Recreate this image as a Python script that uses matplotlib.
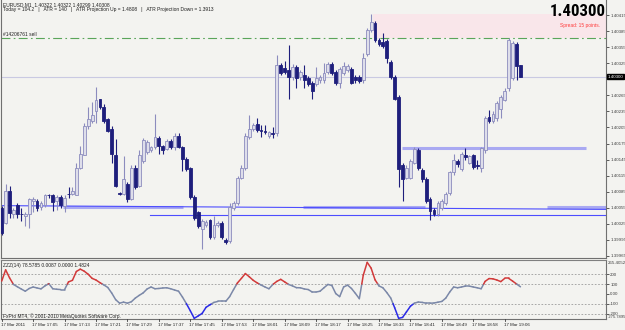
import matplotlib
matplotlib.use('Agg')
import matplotlib.pyplot as plt
from matplotlib.patches import Rectangle
from matplotlib.collections import LineCollection
from matplotlib import font_manager as fm
import numpy as np

# ---------------- data ----------------
opens = [1.40055, 1.40027, 1.40087, 1.40044, 1.40061, 1.40044, 1.40040, 1.40044, 1.40068, 1.40068,
         1.40057, 1.40061, 1.40079, 1.40079, 1.40068, 1.40076, 1.40059, 1.40081, 1.40081, 1.40079,
         1.40130, 1.40154, 1.40207, 1.40218, 1.40235, 1.40258, 1.40244, 1.40220, 1.40203, 1.40154,
         1.40083, 1.40081, 1.40100, 1.40072, 1.40130, 1.40096, 1.40143, 1.40160, 1.40162, 1.40168,
         1.40186, 1.40171, 1.40164, 1.40179, 1.40168, 1.40190, 1.40169, 1.40147, 1.40130, 1.40076,
         1.40048, 1.40016, 1.40023, 1.40033, 1.40001, 1.40023, 1.40027, 1.39995, 1.39993, 1.40055,
         1.40064, 1.40111, 1.40130, 1.40188, 1.40203, 1.40211, 1.40201, 1.40199, 1.40190, 1.40194,
         1.40194, 1.40321, 1.40316, 1.40312, 1.40299, 1.40318, 1.40299, 1.40303, 1.40297, 1.40288,
         1.40286, 1.40293, 1.40293, 1.40308, 1.40323, 1.40308, 1.40289, 1.40306, 1.40312, 1.40314,
         1.40299, 1.40299, 1.40293, 1.40342, 1.40387, 1.40400, 1.40368, 1.40364, 1.40366, 1.40327,
         1.40299, 1.40261, 1.40134, 1.40111, 1.40111, 1.40139, 1.40162, 1.40126, 1.40109, 1.40072,
         1.40051, 1.40044, 1.40055, 1.40064, 1.40083, 1.40121, 1.40143, 1.40128, 1.40153, 1.40139,
         1.40153, 1.40134, 1.40130, 1.40162, 1.40224, 1.40218, 1.40222, 1.40239, 1.40257, 1.40278,
         1.40297, 1.40361, 1.40322]
highs = [1.40059, 1.40100, 1.40096, 1.40055, 1.40064, 1.40055, 1.40048, 1.40074, 1.40076, 1.40072,
         1.40068, 1.40081, 1.40081, 1.40081, 1.40079, 1.40079, 1.40078, 1.40093, 1.40094, 1.40138,
         1.40171, 1.40214, 1.40243, 1.40252, 1.40280, 1.40259, 1.40248, 1.40222, 1.40207, 1.40184,
         1.40085, 1.40151, 1.40104, 1.40134, 1.40134, 1.40162, 1.40186, 1.40181, 1.40171, 1.40231,
         1.40190, 1.40173, 1.40183, 1.40183, 1.40194, 1.40194, 1.40171, 1.40149, 1.40132, 1.40078,
         1.40049, 1.40034, 1.40033, 1.40034, 1.40040, 1.40031, 1.40031, 1.39999, 1.40064, 1.40068,
         1.40115, 1.40134, 1.40194, 1.40228, 1.40214, 1.40222, 1.40209, 1.40209, 1.40199, 1.40205,
         1.40340, 1.40325, 1.40329, 1.40359, 1.40323, 1.40321, 1.40312, 1.40321, 1.40301, 1.40291,
         1.40318, 1.40303, 1.40325, 1.40327, 1.40327, 1.40312, 1.40318, 1.40327, 1.40323, 1.40318,
         1.40303, 1.40303, 1.40344, 1.40391, 1.40417, 1.40404, 1.40372, 1.40381, 1.40370, 1.40331,
         1.40303, 1.40265, 1.40138, 1.40134, 1.40147, 1.40168, 1.40166, 1.40130, 1.40113, 1.40076,
         1.40055, 1.40068, 1.40072, 1.40085, 1.40124, 1.40156, 1.40147, 1.40160, 1.40166, 1.40154,
         1.40156, 1.40145, 1.40169, 1.40226, 1.40237, 1.40235, 1.40254, 1.40265, 1.40278, 1.40372,
         1.40366, 1.40364, 1.40322]
lows = [1.40004, 1.40025, 1.40036, 1.40036, 1.40036, 1.40031, 1.40021, 1.40018, 1.40048, 1.40049,
        1.40051, 1.40057, 1.40074, 1.40049, 1.40051, 1.40055, 1.40048, 1.40074, 1.40078, 1.40078,
        1.40128, 1.40153, 1.40203, 1.40214, 1.40214, 1.40239, 1.40214, 1.40196, 1.40138, 1.40094,
        1.40079, 1.40079, 1.40066, 1.40070, 1.40091, 1.40093, 1.40139, 1.40156, 1.40160, 1.40164,
        1.40156, 1.40156, 1.40162, 1.40164, 1.40162, 1.40166, 1.40124, 1.40124, 1.40072, 1.40033,
        1.40018, 1.39978, 1.40019, 1.39997, 1.39997, 1.40019, 1.39997, 1.39987, 1.39989, 1.40051,
        1.40061, 1.40108, 1.40126, 1.40184, 1.40199, 1.40196, 1.40188, 1.40192, 1.40186, 1.40186,
        1.40190, 1.40303, 1.40304, 1.40259, 1.40293, 1.40278, 1.40293, 1.40278, 1.40282, 1.40259,
        1.40282, 1.40289, 1.40289, 1.40304, 1.40303, 1.40284, 1.40278, 1.40303, 1.40308, 1.40286,
        1.40289, 1.40288, 1.40289, 1.40338, 1.40383, 1.40364, 1.40357, 1.40353, 1.40325, 1.40295,
        1.40256, 1.40093, 1.40068, 1.40108, 1.40108, 1.40136, 1.40126, 1.40104, 1.40064, 1.40033,
        1.40040, 1.40040, 1.40051, 1.40061, 1.40079, 1.40117, 1.40132, 1.40124, 1.40145, 1.40136,
        1.40128, 1.40128, 1.40121, 1.40158, 1.40214, 1.40214, 1.40218, 1.40222, 1.40254, 1.40274,
        1.40293, 1.40293, 1.40299]
closes = [1.40008, 1.40087, 1.40046, 1.40051, 1.40044, 1.40043, 1.40044, 1.40072, 1.40072, 1.40055,
          1.40063, 1.40078, 1.40078, 1.40066, 1.40076, 1.40061, 1.40074, 1.40080, 1.40087, 1.40130,
          1.40156, 1.40207, 1.40220, 1.40229, 1.40256, 1.40243, 1.40218, 1.40199, 1.40156, 1.40096,
          1.40081, 1.40108, 1.40072, 1.40130, 1.40094, 1.40153, 1.40181, 1.40177, 1.40168, 1.40188,
          1.40171, 1.40162, 1.40179, 1.40168, 1.40190, 1.40169, 1.40147, 1.40128, 1.40076, 1.40036,
          1.40021, 1.40031, 1.40029, 1.40001, 1.40023, 1.40027, 1.40001, 1.39991, 1.40057, 1.40063,
          1.40111, 1.40130, 1.40190, 1.40203, 1.40209, 1.40201, 1.40199, 1.40197, 1.40196, 1.40193,
          1.40321, 1.40306, 1.40308, 1.40299, 1.40318, 1.40297, 1.40308, 1.40293, 1.40286, 1.40274,
          1.40297, 1.40299, 1.40306, 1.40323, 1.40306, 1.40288, 1.40314, 1.40319, 1.40319, 1.40289,
          1.40293, 1.40291, 1.40334, 1.40387, 1.40402, 1.40368, 1.40361, 1.40357, 1.40334, 1.40299,
          1.40259, 1.40128, 1.40109, 1.40130, 1.40143, 1.40164, 1.40130, 1.40108, 1.40068, 1.40049,
          1.40044, 1.40064, 1.40068, 1.40081, 1.40121, 1.40145, 1.40136, 1.40156, 1.40149, 1.40151,
          1.40132, 1.40133, 1.40166, 1.40222, 1.40218, 1.40231, 1.40250, 1.40261, 1.40274, 1.40368,
          1.40362, 1.40319, 1.40300]

cci = [130, 245, 163, 96, 72, 49, 27, 55, 70, 60,
       51, 81, 104, 52, 47, 44, 44, 122, 138, 228,
       252, 231, 200, 158, 141, 114, 91, 65, 8, -59,
       -95, -84, -95, -80, -43, -15, 10, 50, 70, 52,
       55, 60, 62, 52, 39, 27, -33, -100, -173, -249,
       -225, -199, -137, -111, -87, -77, -77, -77, -28, 44,
       112, 158, 207, 174, 138, 112, 90, 70, 52, 96,
       127, 148, 122, 96, 81, 63, 62, 50, 44, 19,
       19, 27, 62, 96, 86, 3, -28, 70, 89, 55,
       5, -49, 190, 321, 262, 143, 81, 62, 13, -43,
       -142, -249, -240, -183, -126, -95, -83, -87, -95, -95,
       -93, -85, -77, -43, 19, 70, 62, 70, 79, 79,
       70, 62, 52, 127, 156, 153, 141, 125, 158, 158,
       130, 101, 72]

time_labels = ["17 Mar 2011", "17 Mar 17:05", "17 Mar 17:13", "17 Mar 17:21", "17 Mar 17:29",
               "17 Mar 17:37", "17 Mar 17:45", "17 Mar 17:53", "17 Mar 18:01", "17 Mar 18:09",
               "17 Mar 18:17", "17 Mar 18:25", "17 Mar 18:33", "17 Mar 18:41", "17 Mar 18:49",
               "17 Mar 18:58", "17 Mar 19:06"]
time_label_bars = [0, 8, 16, 24, 32, 40, 48, 56, 64, 72, 80, 88, 96, 104, 112, 120, 128]

price_ticks = [1.40415, 1.40385, 1.40355, 1.40325, 1.40265, 1.40235, 1.40205, 1.40175,
               1.40145, 1.40115, 1.40085, 1.40055, 1.40025, 1.39995, 1.39965]
cci_levels = [200, 100, 0, -100, -200]
cci_level_labels = ["200", "100", "0.00", "-100", "-200"]

current_price = 1.40300
sell_level = 1.40372


def pick(cands):
    for c in cands:
        try:
            fm.findfont(fm.FontProperties(family=c), fallback_to_default=False)
            return c
        except Exception:
            pass
    return 'DejaVu Sans'


SMALL = pick(['Liberation Sans', 'Arial', 'DejaVu Sans'])
BIG = pick(['Liberation Sans Narrow', 'DejaVu Sans Condensed', 'Roboto Condensed', 'Liberation Sans'])
plt.rcParams['font.family'] = [SMALL, 'DejaVu Sans']

# ---------------- figure ----------------
W, H = 625, 330
BG = '#f3f3f0'
fig = plt.figure(figsize=(W / 100, H / 100), dpi=100, facecolor=BG)


def fx(x):
    return x / W


def fy(y):
    return 1 - y / H


STEP = 3.93  # px per bar
X0 = 1.7     # px of first bar
ax_left, ax_right = 1, 606
main_top, main_bot = 0, 258
ind_top, ind_bot = 260, 319

xlim = ((ax_left - X0) / STEP, (ax_right - X0) / STEP)

ax = fig.add_axes([fx(ax_left), fy(main_bot), fx(ax_right - ax_left), (main_bot - main_top) / H])
ax.set_facecolor(BG)
ax.set_xlim(*xlim)
ax.set_ylim(1.399612, 1.404431)

axi = fig.add_axes([fx(ax_left), fy(ind_bot), fx(ax_right - ax_left), (ind_bot - ind_top) / H])
axi.set_facecolor(BG)
axi.set_xlim(*xlim)
axi.set_ylim(-256, 345)

for a in (ax, axi):
    a.spines['top'].set_visible(False)
    for s in ('left', 'right', 'bottom'):
        a.spines[s].set_color('#707070')
        a.spines[s].set_linewidth(0.8)
    a.set_xticks([])
axi.spines['top'].set_visible(True)
axi.spines['top'].set_color('#808080')

# pink zone above sell line (right of peak)
ax.add_patch(Rectangle((94.5, sell_level), xlim[1] - 94.5, 1.40417 - sell_level,
                       facecolor='#f9e6ea', edgecolor='none', zorder=0.5))

# horizontal objects
ax.axhline(current_price, color='#c9c9e2', lw=0.8, zorder=1)
ax.axhline(sell_level, color='#5aa55a', lw=0.8, ls=(0, (8, 3, 1.5, 3)), zorder=1)
for xa, xb in [((63 - X0) / STEP, (183 - X0) / STEP), ((303 - X0) / STEP, (425 - X0) / STEP),
               ((547 - X0) / STEP, xlim[1])]:
    ax.plot([xa, xb], [1.40056, 1.40056], color='#a9a9f2', lw=2.2, solid_capstyle='butt', zorder=1)
ax.plot([(402 - X0) / STEP, (586 - X0) / STEP], [1.40167, 1.40167], color='#a9a9f2', lw=2.2,
        solid_capstyle='butt', zorder=1)
ax.plot([xlim[0], xlim[1]], [1.40059, 1.40052], color='#4d4dff', lw=0.8, zorder=1.2)
ax.plot([(150 - X0) / STEP, xlim[1]], [1.40042, 1.40042], color='#4d4dff', lw=0.8, zorder=1.2)

# candles
BEAR = '#1e1e7c'
BULL_EDGE = '#8c8cbe'
BULL_FILL = '#dedeea'
bw = 0.72
for i, (o, h, l, c) in enumerate(zip(opens, highs, lows, closes)):
    bull = c >= o
    col = BULL_EDGE if bull else BEAR
    ax.plot([i, i], [l, h], color=col, lw=0.8, zorder=2, solid_capstyle='butt')
    lo_b, hi_b = min(o, c), max(o, c)
    hgt = max(hi_b - lo_b, 0.000012)
    ax.add_patch(Rectangle((i - bw / 2, lo_b), bw, hgt,
                           facecolor=BULL_FILL if bull else BEAR,
                           edgecolor=col, lw=0.6, zorder=3))

# price axis
ax.yaxis.tick_right()
ax.set_yticks(price_ticks)
ax.set_yticklabels([f"{p:.5f}" for p in price_ticks])
ax.tick_params(axis='y', length=2, width=0.6, colors='#404040', labelsize=3.2, pad=1)
ax.text(1.002, current_price, "1.40300", transform=ax.get_yaxis_transform(), fontsize=3.2,
        color='white', va='center', ha='left',
        bbox=dict(boxstyle='square,pad=0.15', facecolor='black', edgecolor='black'))

# texts in main chart
fs = 3.5
fig.text(fx(3), fy(4.5), "EURUSD,M1  1.40322 1.40322 1.40299 1.40308", fontsize=fs,
         color='#202020', va='center', ha='left')
fig.text(fx(3), fy(9.5),
         "Today = 104.2   |   ATR = 140   |   ATR Projection Up = 1.4808   |   ATR Projection Down = 1.3913",
         fontsize=fs, color='#202020', va='center', ha='left')
fig.text(fx(3), fy(35), "#14206761 sell", fontsize=fs, color='#202020', va='center', ha='left')
big = fig.text(fx(606), fy(11.5), "1.40300", fontsize=14, fontweight='bold', color='black',
               va='center', ha='right', family=[BIG, 'DejaVu Sans'])
fig.canvas.draw()
bw_px = big.get_window_extent().width
if bw_px > 56:
    big.set_fontsize(14 * 56 / bw_px)
fig.text(fx(600), fy(25), "Spread: 15 points.", fontsize=fs, color='#ff3b3b', va='center', ha='right')

# indicator
for lv in (200, 100, -100, -200):
    axi.axhline(lv, color='#9a9a9a', lw=0.6, ls=(0, (2, 2)), zorder=1)
xs = np.arange(len(cci), dtype=float)
vals = np.array(cci, dtype=float)
segs, cols = [], []


def colour(v):
    if v > 100:
        return '#d23a3a'
    if v < -100:
        return '#2b2be6'
    return '#7b88a8'


for i in range(len(xs) - 1):
    x1, y1, x2, y2 = xs[i], vals[i], xs[i + 1], vals[i + 1]
    cuts = [0.0, 1.0]
    for t in (100, -100):
        if (y1 - t) * (y2 - t) < 0:
            cuts.append((t - y1) / (y2 - y1))
    cuts.sort()
    for a0, a1 in zip(cuts[:-1], cuts[1:]):
        pa = (x1 + a0 * (x2 - x1), y1 + a0 * (y2 - y1))
        pb = (x1 + a1 * (x2 - x1), y1 + a1 * (y2 - y1))
        segs.append([pa, pb])
        cols.append(colour((pa[1] + pb[1]) / 2))
axi.add_collection(LineCollection(segs, colors=cols, linewidths=1.1, zorder=3, capstyle='round'))

axi.yaxis.tick_right()
axi.set_yticks(cci_levels)
axi.set_yticklabels(cci_level_labels)
axi.tick_params(axis='y', length=2, width=0.6, colors='#404040', labelsize=3.2, pad=1)
fig.text(fx(608), fy(263.5), "265.4052", fontsize=3.2, color='#404040', va='center', ha='left')
fig.text(fx(608), fy(317.5), "-275.7895", fontsize=3.0, color='#404040', va='center', ha='left')
fig.text(fx(3), fy(265), "ZZZ(14) 78.5785 0.0087 0.0000 1.4824", fontsize=fs, color='#202020',
         va='center', ha='left')
fig.text(fx(3), fy(316), "FxPro MT4, \u00a9 2001-2010 MetaQuotes Software Corp.", fontsize=fs,
         color='#202020', va='center', ha='left')

# time axis
for b, lab in zip(time_label_bars, time_labels):
    xp = X0 + b * STEP
    fig.text(fx(xp - 1), fy(325), lab, fontsize=3.2, color='#202020', va='center', ha='left')
    fig.add_artist(plt.Line2D([fx(xp), fx(xp)], [fy(319), fy(321)], color='#404040', lw=0.6))

fig.savefig('out.png', dpi=100, facecolor=BG)
